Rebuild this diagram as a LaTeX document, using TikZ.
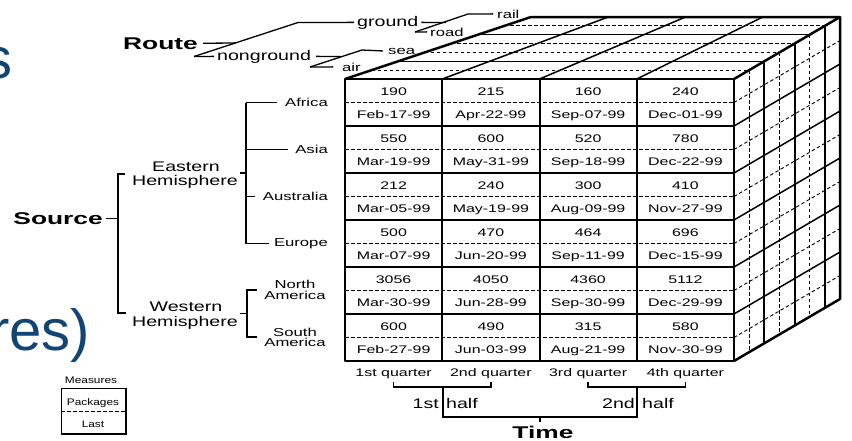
\documentclass[tikz,border=0pt]{standalone}
\usepackage{fontspec}
\setmainfont{Liberation Sans}
\newfontfamily\fA[FakeStretch=1.45]{Liberation Sans}
\newfontfamily\fB[FakeStretch=1.4]{Liberation Sans}
\newfontfamily\fC[FakeStretch=1.25]{Liberation Sans}
\newfontfamily\fD[FakeStretch=1.55]{Liberation Sans}
\definecolor{slideblue}{RGB}{18,68,118}
\tikzset{
  txa/.style={inner sep=0pt, font=\fA\fontsize{11}{12}\selectfont},
  txl/.style={inner sep=0pt, font=\fA\fontsize{11.5}{12}\selectfont},
  txb/.style={inner sep=0pt, font=\fB\fontsize{14}{15}\selectfont},
  txc/.style={inner sep=0pt, font=\fC\fontsize{9.5}{10}\selectfont},
  txd/.style={inner sep=0pt, font=\fD\bfseries\fontsize{17}{18}\selectfont},
  bigtx/.style={inner sep=0pt, font=\fontsize{58}{60}\selectfont, text=slideblue},
  edgeline/.style={line width=2.5pt, line join=round},
  gridS/.style={line width=2pt},
  sideS/.style={line width=1.5pt},
  dsh/.style={line width=0.9pt, dash pattern=on 3.5pt off 2.5pt},
  treel/.style={line width=1.3pt}
}
\begin{document}
\begin{tikzpicture}[x=1pt,y=-1pt]
\useasboundingbox (0,0) rectangle (852,440);
\fill[white] (0,0) rectangle (852,440);

% slide text fragments
\begin{scope}
\clip (0,0) rectangle (852,440);
\node[bigtx, anchor=base west] (stitle) at (-17,78) {s};
\node[bigtx, anchor=base west] (restitle) at (-10,350) {res)};
\end{scope}

% ---------- cube ----------
% right face verticals
\foreach \k/\sty in {1/dsh,2/gridS,3/dsh,4/gridS,5/dsh,6/gridS}{
  \pgfmathsetmacro{\xx}{734+106*\k/7}
  \pgfmathsetmacro{\ya}{79-62*\k/7}
  \pgfmathsetmacro{\yb}{361-62*\k/7}
  \draw[\sty] (\xx,\ya) -- (\xx,\yb);
}
% top face depth lines
\foreach \k/\sty in {1/dsh,2/sideS,3/dsh,4/dsh,5/sideS,6/dsh}{
  \pgfmathsetmacro{\yy}{79-62*\k/7}
  \pgfmathsetmacro{\xa}{345+186*\k/7}
  \pgfmathsetmacro{\xb}{734+106*\k/7}
  \draw[\sty] (\xa,\yy) -- (\xb,\yy);
}
% top face column lines
\foreach \i in {1,2,3}{
  \pgfmathsetmacro{\xa}{345+97.25*\i}
  \pgfmathsetmacro{\xb}{531+77.25*\i}
  \draw[sideS] (\xa,79) -- (\xb,17);
}
% right face row lines and front grid rows
\foreach \r in {1,...,5}{
  \pgfmathsetmacro{\yy}{79+47*\r}
  \pgfmathsetmacro{\yz}{\yy-62}
  \draw[sideS] (734,\yy) -- (840,\yz);
  \draw[gridS] (345,\yy) -- (734,\yy);
}
\foreach \r in {0,...,5}{
  \pgfmathsetmacro{\yy}{102.5+47*\r}
  \pgfmathsetmacro{\yz}{\yy-62}
  \draw[dsh] (734,\yy) -- (840,\yz);
  \draw[dsh] (345,\yy) -- (734,\yy);
}
\foreach \i in {1,2,3}{
  \pgfmathsetmacro{\xa}{345+97.25*\i}
  \draw[gridS] (\xa,79) -- (\xa,361);
}
% outer edges
\draw[edgeline] (345,79) rectangle (734,361);
\draw[edgeline] (345,79) -- (531,17) -- (840,17) -- (840,299) -- (734,361);
\draw[edgeline] (734,79) -- (840,17);

% cell texts
\foreach \va/\da/\vb/\db/\vc/\dc/\vd/\dd [count=\r from 0] in {
 190/Feb-17-99/215/Apr-22-99/160/Sep-07-99/240/Dec-01-99,
 550/Mar-19-99/600/May-31-99/520/Sep-18-99/780/Dec-22-99,
 212/Mar-05-99/240/May-19-99/300/Aug-09-99/410/Nov-27-99,
 500/Mar-07-99/470/Jun-20-99/464/Sep-11-99/696/Dec-15-99,
 3056/Mar-30-99/4050/Jun-28-99/4360/Sep-30-99/5112/Dec-29-99,
 600/Feb-27-99/490/Jun-03-99/315/Aug-21-99/580/Nov-30-99}{
  \pgfmathsetmacro{\yv}{79+47*\r+16}
  \pgfmathsetmacro{\yd}{79+47*\r+39}
  \node[txa, anchor=base] (v\r-a) at (393.6,\yv) {\va};
  \node[txa, anchor=base] (d\r-a) at (393.6,\yd) {\da};
  \node[txa, anchor=base] (v\r-b) at (490.9,\yv) {\vb};
  \node[txa, anchor=base] (d\r-b) at (490.9,\yd) {\db};
  \node[txa, anchor=base] (v\r-c) at (588.1,\yv) {\vc};
  \node[txa, anchor=base] (d\r-c) at (588.1,\yd) {\dc};
  \node[txa, anchor=base] (v\r-d) at (685.4,\yv) {\vd};
  \node[txa, anchor=base] (d\r-d) at (685.4,\yd) {\dd};
}

% ---------- Route tree ----------
\node[txd, anchor=base east] (route) at (198,49) {Route};
\node[txb, anchor=base west] (ground) at (357,26) {ground};
\node[txb, anchor=base west] (nonground) at (217,60) {nonground};
\node[txl, anchor=base west] (rail) at (497,18) {rail};
\node[txl, anchor=base west] (road) at (430,36) {road};
\node[txl, anchor=base west] (sea) at (388,54) {sea};
\node[txl, anchor=base west] (air) at (342,71) {air};
\coordinate (rtTop) at (298,22.5);
\coordinate (rtBot) at (194,56.5);
\coordinate (rtMid) at (236,43);
\draw[treel] (rtBot) -- (rtTop);
\draw[treel] ([xshift=5pt]route.east) -- (rtMid);
\draw[treel] (rtTop) -- ([xshift=-3pt]ground.west);
\draw[treel] (rtBot) -- ([xshift=-3pt]nonground.west);
\coordinate (gTop) at (468,14);
\coordinate (gBot) at (415,32);
\coordinate (gMid) at (446,22.5);
\draw[treel] (gBot) -- (gTop);
\draw[treel] ([xshift=3pt]ground.east) -- (gMid);
\draw[treel] (gTop) -- ([xshift=-4pt]rail.west);
\draw[treel] (gBot) -- ([xshift=-3pt]road.west);
\coordinate (nTop) at (362,50);
\coordinate (nBot) at (310,67);
\coordinate (nMid) at (341,56.5);
\draw[treel] (nBot) -- (nTop);
\draw[treel] ([xshift=5pt]nonground.east) -- (nMid);
\draw[treel] (nTop) -- ([xshift=-5pt]sea.west);
\draw[treel] (nBot) -- ([xshift=-9pt]air.west);

% ---------- Source tree ----------
\node[txd, anchor=base east] (source) at (103,224) {Source};
\coordinate (sTop) at (118,174);
\coordinate (sBot) at (118,313);
\draw[treel] ([xshift=3pt]source.east) -- (source.east -| sTop);
\draw[treel] ([xshift=7pt]sTop) -- (sTop) -- (sBot) -- ([xshift=8pt]sBot);

\node[txb, anchor=base] (east1) at (186,171.5) {Eastern};
\node[txb, anchor=base] (east2) at (185,185) {Hemisphere};
\node[txb, anchor=base] (west1) at (186,311.5) {Western};
\node[txb, anchor=base] (west2) at (185,326) {Hemisphere};

\coordinate (eMid) at (246,173);
\coordinate (eTop) at (246,102.5);
\coordinate (eBot) at (246,243.5);
\draw[treel] (east2.east |- eMid) ++(2,0) -- (eMid);
\draw[treel] (eTop) -- (eBot);

\node[txl, anchor=base east] (africa) at (328,106.7) {Africa};
\node[txl, anchor=base east] (asia) at (328,153.7) {Asia};
\node[txl, anchor=base east] (australia) at (328,200.7) {Australia};
\node[txl, anchor=base east] (europe) at (328,246.5) {Europe};
\draw[treel] (eTop) -- ([xshift=-8pt]africa.west |- eTop);
\draw[treel] (246,149.5) -- ([xshift=-7pt]asia.west |- 0,149.5);
\draw[treel] (246,196.5) -- ([xshift=-8pt]australia.west |- 0,196.5);
\draw[treel] (eBot) -- ([xshift=-5pt]europe.west |- eBot);

\coordinate (wMid) at (247,313.5);
\coordinate (wTop) at (247,290);
\coordinate (wBot) at (247,337);
\draw[treel] (west2.east |- wMid) ++(2,0) -- (wMid);
\draw[treel] ([xshift=10pt]wTop) -- (wTop) -- (wBot) -- ([xshift=10pt]wBot);

\node[txl, anchor=base] (na1) at (295,288.3) {North};
\node[txl, anchor=base] (na2) at (295,299.3) {America};
\node[txl, anchor=base] (sa1) at (295,336) {South};
\node[txl, anchor=base] (sa2) at (295,346.7) {America};

% ---------- Time ----------
\node[txa, anchor=base] (q1) at (393.6,376) {1st quarter};
\node[txa, anchor=base] (q2) at (490.9,376) {2nd quarter};
\node[txa, anchor=base] (q3) at (588.1,376) {3rd quarter};
\node[txa, anchor=base] (q4) at (685.4,376) {4th quarter};
\coordinate (h1) at (443,387);
\coordinate (h2) at (637,387);
\coordinate (hb1) at (443,417);
\coordinate (hb2) at (637,417);
\coordinate (tm) at (540,417);
\draw[treel] (q1.south |- 0,382) -- (q1.south |- h1) -- (q2.south |- h1) -- (q2.south |- 0,382);
\draw[treel] (q3.south |- 0,382) -- (q3.south |- h2) -- (q4.south |- h2) -- (q4.south |- 0,382);
\draw[treel] (h1) -- (hb1) -- (hb2) -- (h2);
\draw[treel] (tm) -- ++(0,5);
\node[txb, anchor=base east] (half1a) at (439,408) {1st};
\node[txb, anchor=base west] (half1b) at (446,408) {half};
\node[txb, anchor=base east] (half2a) at (635,408) {2nd};
\node[txb, anchor=base west] (half2b) at (642,408) {half};
\node[txd, anchor=base] (time) at (543,438) {Time};

% ---------- Measures ----------
\node[txc, anchor=base] (meas) at (91,383) {Measures};
\draw[line width=1pt] (61,388) rectangle (126,434);
\draw[line width=2.2pt] (126,388) -- (126,434) -- (61,434);
\draw[dsh] (61,411) -- (126,411);
\node[txc, anchor=base] (pk) at (93,405) {Packages};
\node[txc, anchor=base] (last) at (93,427) {Last};
\end{tikzpicture}
\end{document}
